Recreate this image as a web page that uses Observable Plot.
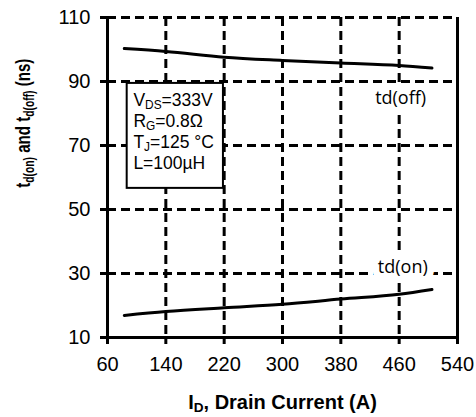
<!DOCTYPE html>
<html><head><meta charset="utf-8">
<script src="https://cdn.jsdelivr.net/npm/d3@7"></script>
<script src="https://cdn.jsdelivr.net/npm/@observablehq/plot@0.6"></script>
<style>body{margin:0;background:#fff}#chart svg{display:block}</style>
</head><body><div id="chart"></div>
<script>
// Data
const current = [83, 140, 220, 300, 380, 460, 505];
const tdOff = [100.3, 99.4, 97.6, 96.6, 95.8, 95.0, 94.2];
const tdOn = [16.9, 18.1, 19.3, 20.4, 22.0, 23.5, 25.0];
const xTicks = [60, 140, 220, 300, 380, 460, 540];
const yTicks = [10, 30, 50, 70, 90, 110];
const seriesNames = ["td(off)", "td(on)"];
const seriesLabelX = [462, 465];
const seriesLabelY = [84.7, 31.9];
const conditions = ["V_{DS}=333V", "R_{G}=0.8Ω", "T_{J}=125 °C", "L=100µH"];
const conditionBox = {x1: 87, x2: 219, y1: 56.6, y2: 89.4, tx: 95.5, ty: 87.0};
const xTitle = "I_{D}, Drain Current (A)";
const yTitle = "t_{d(on)} and t_{d(off)} (ns)";

const offData = current.map((c, i) => ({x: c, y: tdOff[i]}));
const onData = current.map((c, i) => ({x: c, y: tdOn[i]}));
const labelData = seriesNames.map((t, i) => ({text: t, x: seriesLabelX[i], y: seriesLabelY[i]}));

const W = 476, H = 417, mL = 107, mR = 19, mT = 17, mB = 80;
const font = "'Liberation Sans', Arial, sans-serif";
const dash = {stroke: "black", strokeWidth: 3, strokeOpacity: 1, strokeDasharray: "9,5"};
const yTitleDx = -84, yTitleDy = 8;

const chart = Plot.plot({
  width: W, height: H,
  marginLeft: mL, marginRight: mR, marginTop: mT, marginBottom: mB,
  style: {fontFamily: font, background: "white", color: "black"},
  x: {domain: [xTicks[0], xTicks[xTicks.length - 1]]},
  y: {domain: [yTicks[0], yTicks[yTicks.length - 1]]},
  marks: [
    Plot.gridX(xTicks.slice(1, -1), dash),
    Plot.gridY(yTicks.slice(1), dash),
    Plot.ruleX([xTicks[0], xTicks[xTicks.length - 1]], {stroke: "black", strokeWidth: 3}),
    Plot.ruleY([yTicks[0]], {stroke: "black", strokeWidth: 3}),
    Plot.axisX(xTicks, {tickSize: 7, tickPadding: 12, fontSize: 20, strokeWidth: 3, label: null}),
    Plot.axisY(yTicks, {tickSize: 7, tickPadding: 10, fontSize: 20, strokeWidth: 3, label: null}),
    Plot.line(offData, {x: "x", y: "y", stroke: "black", strokeWidth: 3, curve: "monotone-x"}),
    Plot.line(onData, {x: "x", y: "y", stroke: "black", strokeWidth: 3, curve: "monotone-x"}),
    Plot.text(labelData, {x: "x", y: "y", text: "text", fontSize: 18, fontFamily: "'Open Sans', sans-serif",
      fill: "black", stroke: "white", strokeWidth: 14, paintOrder: "stroke", strokeLinejoin: "round"}),
    Plot.rect([conditionBox], {x1: "x1", x2: "x2", y1: "y1", y2: "y2", fill: "white", stroke: "black", strokeWidth: 2}),
    Plot.text([conditions.join("\n")], {x: () => conditionBox.tx, y: () => conditionBox.ty, text: d => d,
      textAnchor: "start", lineAnchor: "top", lineHeight: 1.2, fontSize: 17.5}),
    Plot.text([xTitle], {frameAnchor: "bottom", dy: 71, lineAnchor: "bottom", fontSize: 20, fontWeight: "bold", text: d => d}),
    Plot.text([yTitle], {frameAnchor: "left", dx: yTitleDx, dy: yTitleDy, rotate: -90, lineAnchor: "middle", fontSize: 21, fontWeight: "bold", text: d => d})
  ]
});

const NS = "http://www.w3.org/2000/svg";
// turn _{...} markup into subscript tspans
function richify(svg) {
  const nodes = Array.from(svg.querySelectorAll("text, tspan")).filter(n =>
    n.childNodes.length === 1 && n.firstChild.nodeType === 3 && n.textContent.includes("_{"));
  for (const n of nodes) {
    const s = n.textContent;
    const shift = parseFloat(getComputedStyle(n).fontSize || 17) * 0.18;
    n.textContent = "";
    const re = /_\{([^}]*)\}/g;
    let last = 0, m, pendingUp = false;
    const addText = (t) => {
      if (!t) return;
      if (pendingUp) {
        const ts = document.createElementNS(NS, "tspan");
        ts.setAttribute("dy", -shift);
        ts.textContent = t;
        n.appendChild(ts);
        pendingUp = false;
      } else n.appendChild(document.createTextNode(t));
    };
    while ((m = re.exec(s))) {
      addText(s.slice(last, m.index));
      const sub = document.createElementNS(NS, "tspan");
      sub.setAttribute("font-size", "68%");
      sub.setAttribute("dy", shift);
      sub.textContent = m[1];
      n.appendChild(sub);
      pendingUp = true;
      last = re.lastIndex;
    }
    addText(s.slice(last));
  }
}
document.getElementById("chart").appendChild(chart);
richify(chart);
// the reference's vertical title is set in a condensed face: squeeze it along its length about its anchor
const yTitleNode = Array.from(chart.querySelectorAll("text")).find(t => t.textContent.includes("(ns)"));
if (yTitleNode) {
  const cx = mL + yTitleDx, cy = mT + (H - mT - mB) / 2 + yTitleDy, k = 0.72;
  const g = document.createElementNS(NS, "g");
  g.setAttribute("transform", `translate(${cx},${cy}) scale(1,${k}) translate(${-cx},${-cy})`);
  yTitleNode.parentNode.insertBefore(g, yTitleNode);
  g.appendChild(yTitleNode);
}
</script></body></html>
